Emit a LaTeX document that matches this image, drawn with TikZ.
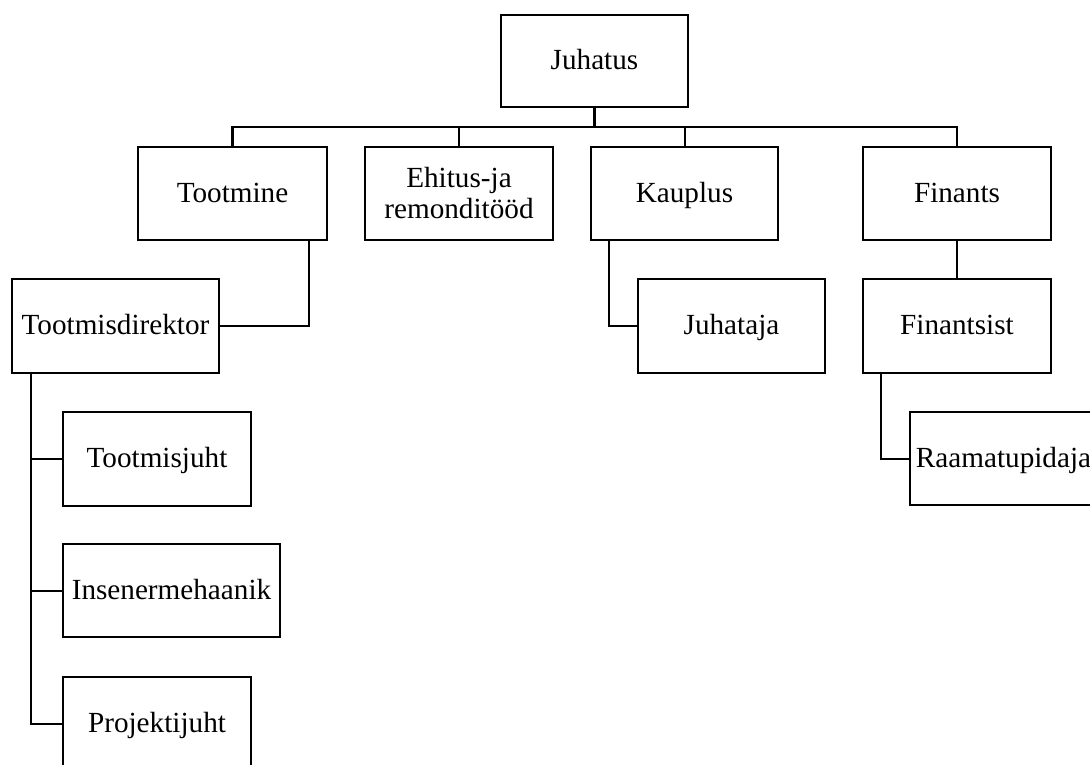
\documentclass[tikz,border=0pt]{standalone}
\usepackage{fontspec}
\setmainfont{Liberation Serif}
\begin{document}
\begin{tikzpicture}[x=1pt,y=-1pt,
  unit/.style={draw, line width=2.2pt, minimum width=188pt, minimum height=93pt,
    inner sep=0pt, align=center, font=\fontsize{29.2}{31}\selectfont},
  oneline/.style={unit, text height=20pt, text depth=3pt},
  link/.style={line width=2pt},
  trunk/.style={line width=2.6pt}]
\useasboundingbox[fill=white] (0,0) rectangle (1090,765);

% top level
\node[oneline, minimum width=187pt, minimum height=92pt] (juhatus) at (594.5,61) {Juhatus};

% departments
\node[oneline, minimum width=189pt] (tootmine) at (232.5,193.5) {Tootmine};
\node[unit] (ehitus)   at (459,193.5)   {Ehitus-ja\\remonditööd};
\node[oneline, minimum width=187pt] (kauplus) at (684.5,193.5) {Kauplus};
\node[oneline] (finants)  at (957,193.5)   {Finants};

% second level
\node[oneline, minimum width=207pt, minimum height=94pt] (direktor) at (115.5,326) {Tootmisdirektor};
\node[oneline, minimum width=187pt, minimum height=94pt] (juhataja) at (731.5,326) {Juhataja};
\node[oneline, minimum height=94pt] (finantsist) at (957,326) {Finantsist};

% third level
\node[oneline, minimum height=94pt] (tjuht)   at (157,459)   {Tootmisjuht};
\node[oneline, minimum width=217pt] (insener) at (171.5,590.5) {Insenermehaanik};
\node[oneline, minimum height=94pt] (projekt) at (157,724)   {Projektijuht};
\node[oneline, minimum width=187pt] (raamat)  at (1003.5,458.5) {Raamatupidaja};

% bus below the board
\coordinate (bus) at (594.5,127);
\draw[trunk] (juhatus.south) -- (bus);
\draw[trunk] (bus) -| (tootmine.north);
\draw[link] (bus) -| (finants.north);
\draw[link] (ehitus.north) |- (bus);
\draw[link] (kauplus.north) |- (bus);

% branches
\draw[link] (tootmine.south east) ++(-19,0) |- (direktor.east);
\draw[link] (kauplus.south west) ++(19,0) |- (juhataja.west);
\draw[link] (finants.south) -- (finantsist.north);
\draw[link] (finantsist.south west) ++(19,0) |- (raamat.west);
\draw[link] (direktor.south west) ++(20,0) |- (projekt.west);
\draw[link] (direktor.south west) ++(20,0) |- (tjuht.west);
\draw[link] (direktor.south west) ++(20,0) |- (insener.west);
\end{tikzpicture}
\end{document}
